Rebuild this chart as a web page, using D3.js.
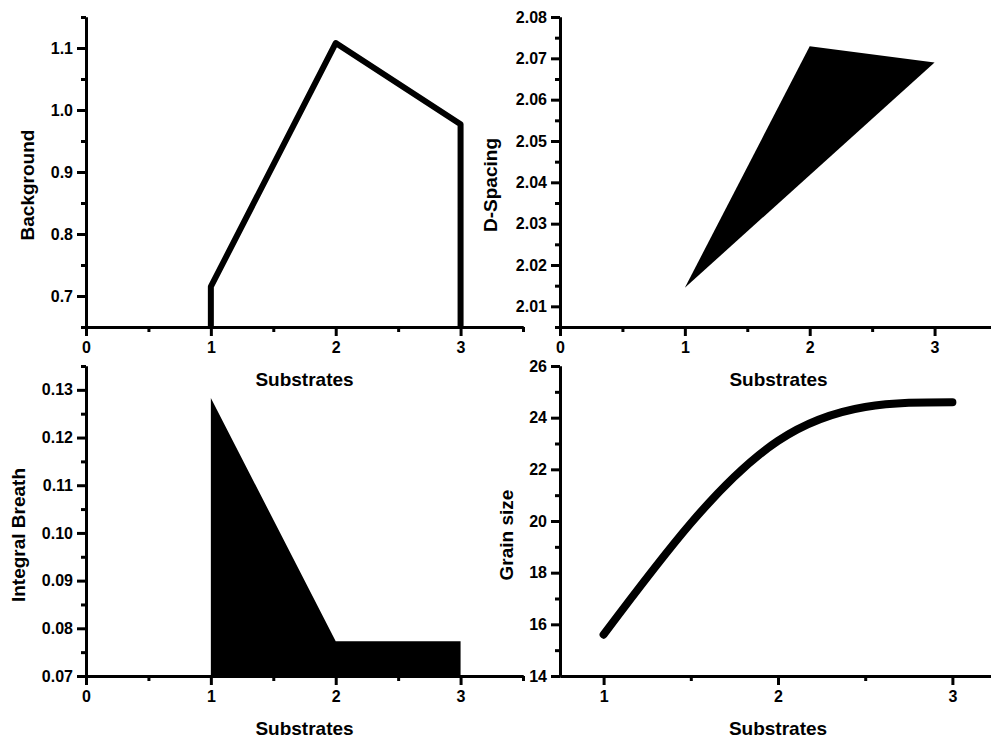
<!DOCTYPE html>
<html>
<head>
<meta charset="utf-8">
<script src="https://cdn.jsdelivr.net/npm/d3@7"></script>
<style>
  body { margin: 0; background: #fff; }
  text { font-family: "Liberation Sans", Arial, sans-serif; font-weight: bold; fill: #000; }
</style>
</head>
<body>
<svg id="chart" width="991" height="742"></svg>
<script>
// data
var substrates = [1, 2, 3]
var background = [0.715, 1.108, 0.977]
var dSpacing = [2.0145, 2.0729, 2.069]
var integralBreath = [0.1283, 0.0773, 0.0773]
var grainSize = [15.6, 23.1, 24.6]

// tick values
var xTicksFrom0 = [0, 1, 2, 3]
var xMinorFrom0 = [0.5, 1.5, 2.5, 3.5]
var xTicksGrain = [1, 2, 3]
var xMinorGrain = [1.5, 2.5]
var bgTicks = [0.7, 0.8, 0.9, 1.0, 1.1]
var bgMinor = [0.65, 0.75, 0.85, 0.95, 1.05, 1.15]
var dsTicks = [2.01, 2.02, 2.03, 2.04, 2.05, 2.06, 2.07, 2.08]
var dsMinor = [2.005, 2.015, 2.025, 2.035, 2.045, 2.055, 2.065, 2.075]
var ibTicks = [0.07, 0.08, 0.09, 0.10, 0.11, 0.12, 0.13]
var ibMinor = [0.075, 0.085, 0.095, 0.105, 0.115, 0.125, 0.135]
var gsTicks = [14, 16, 18, 20, 22, 24, 26]
var gsMinor = [15, 17, 19, 21, 23, 25]

var svg = d3.select('#chart')
svg.append('rect').attr('width', 991).attr('height', 742).attr('fill', '#fff')

function panel(o) {
	var x = d3.scaleLinear().domain(o.xDomain).range(o.xRange)
	var y = d3.scaleLinear().domain(o.yDomain).range(o.yRange)
	var g = svg.append('g')

	// minor ticks first, then the major axis on top
	g.append('g')
		.attr('transform', 'translate(0,' + o.yRange[0] + ')')
		.call(d3.axisBottom(x).tickValues(o.xMinor).tickSize(5).tickSizeOuter(0).tickFormat(''))
	g.append('g')
		.attr('transform', 'translate(' + o.xRange[0] + ',0)')
		.call(d3.axisLeft(y).tickValues(o.yMinor).tickSize(5).tickSizeOuter(0).tickFormat(''))

	g.append('g')
		.attr('class', 'xaxis')
		.attr('transform', 'translate(0,' + o.yRange[0] + ')')
		.call(d3.axisBottom(x).tickValues(o.xTicks).tickSize(9).tickPadding(6).tickSizeOuter(0).tickFormat(d3.format('d')))
	g.append('g')
		.attr('class', 'yaxis')
		.attr('transform', 'translate(' + o.xRange[0] + ',0)')
		.call(d3.axisLeft(y).tickValues(o.yTicks).tickSize(9).tickPadding(4).tickSizeOuter(0).tickFormat(d3.format(o.yFormat)))

	g.selectAll('.domain, .tick line').attr('stroke', '#000').attr('stroke-width', 3)
	g.selectAll('.tick text').attr('font-size', 16).attr('font-family', null).attr('fill', '#000')

	// axis titles
	g.append('text')
		.attr('x', (o.xRange[0] + o.xRange[1]) / 2)
		.attr('y', o.yRange[0] + o.xTitleDy)
		.attr('text-anchor', 'middle')
		.attr('font-size', 19)
		.text('Substrates')
	g.append('text')
		.attr('transform', 'translate(' + o.yTitleX + ',' + o.yTitleY + ') rotate(-90)')
		.attr('text-anchor', 'middle')
		.attr('font-size', 19)
		.text(o.yTitle)

	return {g: g, x: x, y: y}
}

// top left : Background
var p1 = panel({
	xDomain: [0, 3.5], xRange: [86, 523], yDomain: [0.65, 1.15], yRange: [327, 17],
	xTicks: xTicksFrom0, xMinor: xMinorFrom0, yTicks: bgTicks, yMinor: bgMinor, yFormat: '.1f',
	xTitleDy: 59, yTitleX: 34, yTitleY: 185, yTitle: 'Background'
})
var bgPts = [[substrates[0], 0.65]].concat(substrates.map(function(d, i) { return [d, background[i]] }), [[substrates[2], 0.65]])
p1.g.insert('path', '.xaxis')
	.attr('d', d3.line().x(function(d) { return p1.x(d[0]) }).y(function(d) { return p1.y(d[1]) })(bgPts))
	.attr('fill', 'none')
	.attr('stroke', '#000')
	.attr('stroke-width', 6)
	.attr('stroke-linejoin', 'round')

// top right : D-Spacing
var p2 = panel({
	xDomain: [0, 3.5], xRange: [560, 997], yDomain: [2.005, 2.08], yRange: [327, 17],
	xTicks: xTicksFrom0, xMinor: xMinorFrom0, yTicks: dsTicks, yMinor: dsMinor, yFormat: '.2f',
	xTitleDy: 59, yTitleX: 497, yTitleY: 185, yTitle: 'D-Spacing'
})
p2.g.insert('path', '.xaxis')
	.attr('d', d3.line().curve(d3.curveLinearClosed)
		.x(function(d, i) { return p2.x(substrates[i]) })
		.y(function(d) { return p2.y(d) })(dSpacing))
	.attr('fill', '#000')

// bottom left : Integral Breath
var p3 = panel({
	xDomain: [0, 3.5], xRange: [86, 523], yDomain: [0.07, 0.135], yRange: [676, 366],
	xTicks: xTicksFrom0, xMinor: xMinorFrom0, yTicks: ibTicks, yMinor: ibMinor, yFormat: '.2f',
	xTitleDy: 59, yTitleX: 25, yTitleY: 535, yTitle: 'Integral Breath'
})
p3.g.insert('path', '.xaxis')
	.attr('d', d3.area()
		.x(function(d, i) { return p3.x(substrates[i]) })
		.y0(p3.y(0.07))
		.y1(function(d) { return p3.y(d) })(integralBreath))
	.attr('fill', '#000')

// bottom right : Grain size
var p4 = panel({
	xDomain: [0.75, 3.25], xRange: [560, 996], yDomain: [14, 26], yRange: [676, 366],
	xTicks: xTicksGrain, xMinor: xMinorGrain, yTicks: gsTicks, yMinor: gsMinor, yFormat: 'd',
	xTitleDy: 59, yTitleX: 513, yTitleY: 535, yTitle: 'Grain size'
})
p4.g.insert('path', '.xaxis')
	.attr('d', d3.line().curve(d3.curveNatural)
		.x(function(d, i) { return p4.x(substrates[i]) })
		.y(function(d) { return p4.y(d) })(grainSize))
	.attr('fill', 'none')
	.attr('stroke', '#000')
	.attr('stroke-width', 8)
	.attr('stroke-linecap', 'round')
</script>
</body>
</html>
